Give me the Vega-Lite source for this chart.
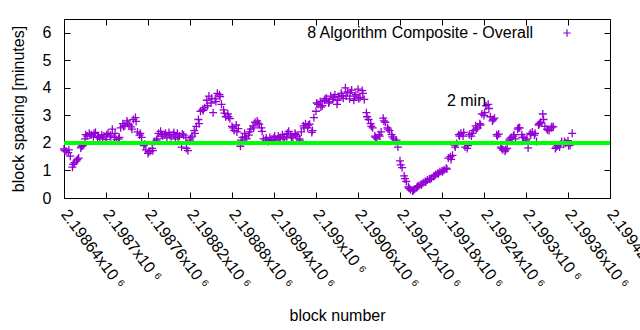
{
  "$schema": "https://vega.github.io/schema/vega-lite/v6.json",
  "width": 546,
  "height": 179,
  "autosize": {"type": "none"},
  "padding": {"left": 64, "top": 19, "right": 30, "bottom": 132},
  "background": "#ffffff",
  "config": {
    "font": "Liberation Sans",
    "view": {"stroke": "#000000", "strokeWidth": 1},
    "axis": {
      "grid": false, "domain": false, "tickColor": "#000000", "tickSize": -6, "tickWidth": 1,
      "labelColor": "#000000", "labelFontSize": 16, "titleFontSize": 16, "titleFontWeight": "normal",
      "titleColor": "#000000", "labelFont": "Liberation Sans", "titleFont": "Liberation Sans",
      "labelOverlap": false, "labelBound": false, "labelFlush": false
    }
  },
  "datasets": {
    "pts": [
      {"block":2198640,"spacing":1.78},{"block":2198643,"spacing":1.70},{"block":2198646,"spacing":1.65},{"block":2198649,"spacing":1.52},
      {"block":2198652,"spacing":1.12},{"block":2198655,"spacing":1.28},{"block":2198658,"spacing":1.35},{"block":2198661,"spacing":1.45},
      {"block":2198664,"spacing":1.82},{"block":2198667,"spacing":1.90},{"block":2198670,"spacing":2.15},{"block":2198673,"spacing":2.25},
      {"block":2198676,"spacing":2.35},{"block":2198679,"spacing":2.30},{"block":2198682,"spacing":2.22},{"block":2198685,"spacing":2.38},
      {"block":2198688,"spacing":2.20},{"block":2198691,"spacing":2.15},{"block":2198694,"spacing":2.30},{"block":2198697,"spacing":2.25},
      {"block":2198700,"spacing":2.12},{"block":2198703,"spacing":2.35},{"block":2198706,"spacing":2.28},{"block":2198709,"spacing":2.50},
      {"block":2198712,"spacing":2.20},{"block":2198715,"spacing":2.12},{"block":2198718,"spacing":2.15},{"block":2198721,"spacing":2.55},
      {"block":2198724,"spacing":2.70},{"block":2198727,"spacing":2.62},{"block":2198730,"spacing":2.80},{"block":2198733,"spacing":2.65},
      {"block":2198736,"spacing":2.58},{"block":2198739,"spacing":2.85},{"block":2198742,"spacing":2.92},{"block":2198745,"spacing":2.40},
      {"block":2198748,"spacing":2.28},{"block":2198751,"spacing":2.20},{"block":2198754,"spacing":1.90},{"block":2198757,"spacing":1.75},
      {"block":2198760,"spacing":1.62},{"block":2198763,"spacing":1.70},{"block":2198766,"spacing":1.80},{"block":2198769,"spacing":2.05},
      {"block":2198772,"spacing":2.10},{"block":2198775,"spacing":2.35},{"block":2198778,"spacing":2.42},{"block":2198781,"spacing":2.25},
      {"block":2198784,"spacing":2.30},{"block":2198787,"spacing":2.18},{"block":2198790,"spacing":2.38},{"block":2198793,"spacing":2.22},
      {"block":2198796,"spacing":2.30},{"block":2198799,"spacing":2.15},{"block":2198802,"spacing":2.35},{"block":2198805,"spacing":2.25},
      {"block":2198808,"spacing":1.85},{"block":2198811,"spacing":2.28},{"block":2198814,"spacing":2.20},{"block":2198817,"spacing":1.72},
      {"block":2198820,"spacing":2.10},{"block":2198823,"spacing":2.25},{"block":2198826,"spacing":2.45},{"block":2198829,"spacing":2.60},
      {"block":2198832,"spacing":2.85},{"block":2198835,"spacing":3.15},{"block":2198838,"spacing":3.22},{"block":2198841,"spacing":3.28},
      {"block":2198844,"spacing":3.55},{"block":2198847,"spacing":3.70},{"block":2198850,"spacing":3.45},{"block":2198853,"spacing":3.10},
      {"block":2198856,"spacing":3.60},{"block":2198859,"spacing":3.80},{"block":2198862,"spacing":3.75},{"block":2198865,"spacing":3.40},
      {"block":2198868,"spacing":3.20},{"block":2198871,"spacing":2.95},{"block":2198874,"spacing":3.05},{"block":2198877,"spacing":2.88},
      {"block":2198880,"spacing":2.60},{"block":2198883,"spacing":2.45},{"block":2198886,"spacing":2.65},{"block":2198889,"spacing":2.52},
      {"block":2198892,"spacing":1.88},{"block":2198895,"spacing":2.20},{"block":2198898,"spacing":2.35},{"block":2198901,"spacing":2.15},
      {"block":2198904,"spacing":2.28},{"block":2198907,"spacing":2.50},{"block":2198910,"spacing":2.62},{"block":2198913,"spacing":2.75},
      {"block":2198916,"spacing":2.80},{"block":2198919,"spacing":2.68},{"block":2198922,"spacing":2.55},{"block":2198925,"spacing":2.15},
      {"block":2198928,"spacing":2.10},{"block":2198931,"spacing":2.05},{"block":2198934,"spacing":2.20},{"block":2198937,"spacing":2.12},
      {"block":2198940,"spacing":2.18},{"block":2198943,"spacing":2.10},{"block":2198946,"spacing":2.25},{"block":2198949,"spacing":2.20},
      {"block":2198952,"spacing":2.30},{"block":2198955,"spacing":2.15},{"block":2198958,"spacing":2.22},{"block":2198961,"spacing":2.42},
      {"block":2198964,"spacing":2.28},{"block":2198967,"spacing":2.18},{"block":2198970,"spacing":2.35},{"block":2198973,"spacing":2.25},
      {"block":2198976,"spacing":2.15},{"block":2198979,"spacing":2.40},{"block":2198982,"spacing":2.62},{"block":2198985,"spacing":2.70},
      {"block":2198988,"spacing":2.55},{"block":2198991,"spacing":2.68},{"block":2198994,"spacing":2.38},{"block":2198997,"spacing":2.92},
      {"block":2199000,"spacing":3.15},{"block":2199003,"spacing":3.40},{"block":2199006,"spacing":3.50},{"block":2199009,"spacing":3.35},
      {"block":2199012,"spacing":3.55},{"block":2199015,"spacing":3.62},{"block":2199018,"spacing":3.45},{"block":2199021,"spacing":3.70},
      {"block":2199024,"spacing":3.58},{"block":2199027,"spacing":3.75},{"block":2199030,"spacing":3.40},{"block":2199033,"spacing":3.68},
      {"block":2199036,"spacing":3.80},{"block":2199039,"spacing":3.62},{"block":2199042,"spacing":4.00},{"block":2199045,"spacing":3.85},
      {"block":2199048,"spacing":3.60},{"block":2199051,"spacing":3.92},{"block":2199054,"spacing":3.55},{"block":2199057,"spacing":3.75},
      {"block":2199060,"spacing":3.95},{"block":2199063,"spacing":3.65},{"block":2199066,"spacing":3.90},{"block":2199069,"spacing":3.58},
      {"block":2199072,"spacing":3.10},{"block":2199075,"spacing":2.85},{"block":2199078,"spacing":2.70},{"block":2199081,"spacing":2.55},
      {"block":2199084,"spacing":2.25},{"block":2199087,"spacing":2.15},{"block":2199090,"spacing":2.30},{"block":2199093,"spacing":2.40},
      {"block":2199096,"spacing":2.90},{"block":2199099,"spacing":2.75},{"block":2199102,"spacing":2.55},{"block":2199105,"spacing":2.45},
      {"block":2199108,"spacing":2.30},{"block":2199111,"spacing":2.15},{"block":2199114,"spacing":2.05},{"block":2199117,"spacing":1.85},
      {"block":2199120,"spacing":1.35},{"block":2199123,"spacing":1.10},{"block":2199126,"spacing":0.80},{"block":2199129,"spacing":0.60},
      {"block":2199132,"spacing":0.40},{"block":2199135,"spacing":0.30},{"block":2199138,"spacing":0.25},{"block":2199141,"spacing":0.32},
      {"block":2199144,"spacing":0.38},{"block":2199147,"spacing":0.45},{"block":2199150,"spacing":0.50},{"block":2199153,"spacing":0.55},
      {"block":2199156,"spacing":0.60},{"block":2199159,"spacing":0.65},{"block":2199162,"spacing":0.70},{"block":2199165,"spacing":0.72},
      {"block":2199168,"spacing":0.78},{"block":2199171,"spacing":0.85},{"block":2199174,"spacing":0.90},{"block":2199177,"spacing":0.95},
      {"block":2199180,"spacing":0.98},{"block":2199183,"spacing":1.02},{"block":2199186,"spacing":1.08},{"block":2199189,"spacing":1.45},
      {"block":2199192,"spacing":1.50},{"block":2199195,"spacing":1.55},{"block":2199198,"spacing":1.92},{"block":2199201,"spacing":1.98},
      {"block":2199204,"spacing":2.30},{"block":2199207,"spacing":2.35},{"block":2199210,"spacing":2.25},{"block":2199213,"spacing":1.85},
      {"block":2199216,"spacing":1.80},{"block":2199219,"spacing":2.30},{"block":2199222,"spacing":2.25},{"block":2199225,"spacing":2.45},
      {"block":2199228,"spacing":2.62},{"block":2199231,"spacing":2.55},{"block":2199234,"spacing":2.70},{"block":2199237,"spacing":3.05},
      {"block":2199240,"spacing":3.00},{"block":2199243,"spacing":3.35},{"block":2199246,"spacing":3.40},{"block":2199249,"spacing":2.95},
      {"block":2199252,"spacing":2.80},{"block":2199255,"spacing":2.90},{"block":2199258,"spacing":2.30},{"block":2199261,"spacing":2.32},
      {"block":2199264,"spacing":1.85},{"block":2199267,"spacing":1.75},{"block":2199270,"spacing":1.70},{"block":2199273,"spacing":1.80},
      {"block":2199276,"spacing":2.10},{"block":2199279,"spacing":2.20},{"block":2199282,"spacing":2.25},{"block":2199285,"spacing":2.15},
      {"block":2199288,"spacing":2.50},{"block":2199291,"spacing":2.55},{"block":2199294,"spacing":2.30},{"block":2199297,"spacing":2.20},
      {"block":2199300,"spacing":2.10},{"block":2199303,"spacing":1.82},{"block":2199306,"spacing":2.35},{"block":2199309,"spacing":2.40},
      {"block":2199312,"spacing":2.28},{"block":2199315,"spacing":2.05},{"block":2199318,"spacing":2.65},{"block":2199321,"spacing":2.75},
      {"block":2199324,"spacing":3.05},{"block":2199327,"spacing":2.60},{"block":2199330,"spacing":2.50},{"block":2199333,"spacing":2.45},
      {"block":2199336,"spacing":2.55},{"block":2199339,"spacing":2.58},{"block":2199342,"spacing":1.80},{"block":2199345,"spacing":1.90},
      {"block":2199348,"spacing":1.85},{"block":2199351,"spacing":2.05},{"block":2199354,"spacing":1.95},{"block":2199357,"spacing":2.00},
      {"block":2199360,"spacing":2.08},{"block":2199363,"spacing":1.92},{"block":2199366,"spacing":2.35},
      {"block":2198641,"spacing":1.72},{"block":2198647,"spacing":1.75},{"block":2198653,"spacing":1.22},{"block":2198659,"spacing":1.40},
      {"block":2198665,"spacing":1.88},{"block":2198671,"spacing":2.30},{"block":2198677,"spacing":2.28},{"block":2198683,"spacing":2.35},
      {"block":2198689,"spacing":2.25},{"block":2198695,"spacing":2.18},{"block":2198701,"spacing":2.30},{"block":2198707,"spacing":2.22},
      {"block":2198713,"spacing":2.35},{"block":2198719,"spacing":2.20},{"block":2198725,"spacing":2.60},{"block":2198731,"spacing":2.72},
      {"block":2198737,"spacing":2.50},{"block":2198743,"spacing":2.78},{"block":2198749,"spacing":2.35},{"block":2198755,"spacing":1.95},
      {"block":2198761,"spacing":1.68},{"block":2198767,"spacing":1.72},{"block":2198773,"spacing":2.15},{"block":2198779,"spacing":2.30},
      {"block":2198785,"spacing":2.35},{"block":2198791,"spacing":2.28},{"block":2198797,"spacing":2.38},{"block":2198803,"spacing":2.20},
      {"block":2198809,"spacing":2.32},{"block":2198815,"spacing":1.80},{"block":2198821,"spacing":2.18},{"block":2198827,"spacing":2.35},
      {"block":2198833,"spacing":2.70},{"block":2198839,"spacing":3.18},{"block":2198845,"spacing":3.35},{"block":2198851,"spacing":3.62},
      {"block":2198857,"spacing":3.50},{"block":2198863,"spacing":3.68},{"block":2198869,"spacing":3.08},{"block":2198875,"spacing":2.95},
      {"block":2198881,"spacing":2.55},{"block":2198887,"spacing":2.40},{"block":2198893,"spacing":2.10},{"block":2198899,"spacing":2.22},
      {"block":2198905,"spacing":2.40},{"block":2198911,"spacing":2.55},{"block":2198917,"spacing":2.72},{"block":2198923,"spacing":2.42},
      {"block":2198929,"spacing":2.18},{"block":2198935,"spacing":2.08},{"block":2198941,"spacing":2.25},{"block":2198947,"spacing":2.15},
      {"block":2198953,"spacing":2.20},{"block":2198959,"spacing":2.35},{"block":2198965,"spacing":2.20},{"block":2198971,"spacing":2.30},
      {"block":2198977,"spacing":2.10},{"block":2198983,"spacing":2.55},{"block":2198989,"spacing":2.65},{"block":2198995,"spacing":2.45},
      {"block":2199001,"spacing":3.45},{"block":2199007,"spacing":3.30},{"block":2199013,"spacing":3.60},{"block":2199019,"spacing":3.50},
      {"block":2199025,"spacing":3.65},{"block":2199031,"spacing":3.55},{"block":2199037,"spacing":3.72},{"block":2199043,"spacing":3.70},
      {"block":2199049,"spacing":3.82},{"block":2199055,"spacing":3.70},{"block":2199061,"spacing":3.60},{"block":2199067,"spacing":3.80},
      {"block":2199073,"spacing":2.95},{"block":2199079,"spacing":2.60},{"block":2199085,"spacing":2.20},{"block":2199091,"spacing":2.25},
      {"block":2199097,"spacing":2.80},{"block":2199103,"spacing":2.50},{"block":2199109,"spacing":2.22},{"block":2199115,"spacing":2.10},
      {"block":2199121,"spacing":1.20},{"block":2199127,"spacing":0.70},{"block":2199133,"spacing":0.35},{"block":2199139,"spacing":0.28},
      {"block":2199145,"spacing":0.42},{"block":2199151,"spacing":0.48},{"block":2199157,"spacing":0.58},{"block":2199163,"spacing":0.68},
      {"block":2199169,"spacing":0.80},{"block":2199175,"spacing":0.88},{"block":2199181,"spacing":0.95},{"block":2199187,"spacing":1.05},
      {"block":2199193,"spacing":1.40},{"block":2199199,"spacing":1.85},{"block":2199205,"spacing":2.25},{"block":2199211,"spacing":2.38},
      {"block":2199217,"spacing":1.90},{"block":2199223,"spacing":2.35},{"block":2199229,"spacing":2.50},{"block":2199235,"spacing":2.65},
      {"block":2199241,"spacing":3.10},{"block":2199247,"spacing":3.25},{"block":2199253,"spacing":2.85},{"block":2199259,"spacing":2.25},
      {"block":2199265,"spacing":1.80},{"block":2199271,"spacing":1.75},{"block":2199277,"spacing":2.15},{"block":2199283,"spacing":2.30},
      {"block":2199289,"spacing":2.55},{"block":2199295,"spacing":2.20},{"block":2199301,"spacing":2.15},{"block":2199307,"spacing":2.30},
      {"block":2199313,"spacing":2.35},{"block":2199319,"spacing":2.70},{"block":2199325,"spacing":2.85},{"block":2199331,"spacing":2.48},
      {"block":2199337,"spacing":2.60},{"block":2199343,"spacing":1.85},{"block":2199349,"spacing":1.95},{"block":2199355,"spacing":2.05},
      {"block":2199361,"spacing":1.90}
    ],
    "notes": [{"block": 2199187, "spacing": 3.53, "label": "2 min"}],
    "level": [{"spacing": 2}]
  },
  "layer": [
    {
      "data": {"name": "pts"},
      "mark": {"type": "point", "shape": "M-1,0L1,0M0,-1L0,1", "filled": false, "strokeWidth": 1.3, "size": 64, "opacity": 1},
      "encoding": {
        "x": {
          "field": "block", "type": "quantitative",
          "scale": {"domain": [2198640, 2199420], "nice": false, "zero": false},
          "axis": {
            "orient": "bottom",
            "values": [2198640, 2198700, 2198760, 2198820, 2198880, 2198940, 2199000, 2199060, 2199120, 2199180, 2199240, 2199300, 2199360, 2199420],
            "labelExpr": "format(datum.value / 1000000, '.5~f') + 'x10 ⁶'",
            "labelAngle": 53, "labelAlign": "left", "labelBaseline": "middle", "labelPadding": 19,
            "title": "block number", "titleY": 122, "titleBaseline": "alphabetic"
          }
        },
        "y": {
          "field": "spacing", "type": "quantitative",
          "scale": {"domain": [0, 6.5], "nice": false},
          "axis": {"orient": "left", "values": [0, 1, 2, 3, 4, 5, 6], "labelPadding": 19, "title": "block spacing [minutes]", "titlePadding": 16}
        },
        "color": {
          "datum": "8 Algorithm Composite - Overall",
          "scale": {"range": ["#9400d3"]},
          "legend": {
            "orient": "none", "legendX": 495, "legendY": 6, "title": null,
            "symbolType": "M-1,0L1,0M0,-1L0,1", "symbolStrokeColor": "#9400d3", "symbolFillColor": "transparent",
            "symbolSize": 56, "symbolStrokeWidth": 1.2, "labelFontSize": 16, "labelFont": "Liberation Sans",
            "labelAlign": "right", "labelOffset": -42, "labelColor": "#000000", "labelLimit": 400
          }
        }
      }
    },
    {
      "data": {"name": "level"},
      "mark": {"type": "rule", "color": "#00ff00", "strokeWidth": 4},
      "encoding": {"y": {"field": "spacing", "type": "quantitative", "axis": null}}
    },
    {
      "data": {"name": "notes"},
      "mark": {"type": "text", "align": "left", "baseline": "middle", "fontSize": 16, "font": "Liberation Sans", "color": "#000000"},
      "encoding": {
        "x": {
          "field": "block", "type": "quantitative",
          "axis": {"orient": "top", "values": [2198640, 2198700, 2198760, 2198820, 2198880, 2198940, 2199000, 2199060, 2199120, 2199180, 2199240, 2199300, 2199360, 2199420], "labels": false, "title": null}
        },
        "y": {
          "field": "spacing", "type": "quantitative",
          "axis": {"orient": "right", "values": [0, 1, 2, 3, 4, 5, 6], "labels": false, "title": null}
        },
        "text": {"field": "label"}
      }
    }
  ],
  "resolve": {"axis": {"x": "independent", "y": "independent"}}
}
